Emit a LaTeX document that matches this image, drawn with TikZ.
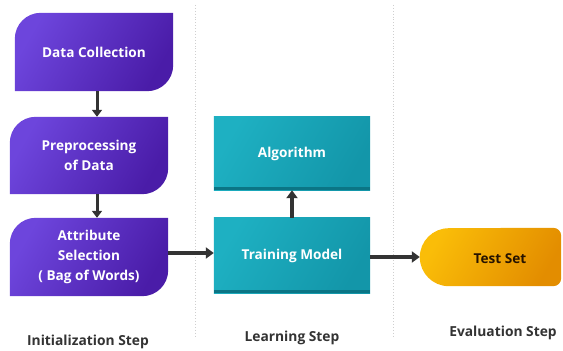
\documentclass[tikz,border=0pt]{standalone}
\usepackage{fontspec}
\setmainfont{Open Sans}
\usetikzlibrary{arrows.meta,backgrounds}
\definecolor{purpA}{HTML}{6D45DC}
\definecolor{purpB}{HTML}{4A1CA8}
\definecolor{tealA}{HTML}{1EB0C2}
\definecolor{tealB}{HTML}{1396A9}
\definecolor{tealD}{HTML}{0B7585}
\definecolor{orA}{HTML}{FABD08}
\definecolor{orB}{HTML}{E38D00}
\definecolor{arr}{HTML}{333333}
\definecolor{sep}{HTML}{CFCFCF}
\tikzset{
  boxtext/.style={inner sep=0pt, font=\bfseries\fontsize{13.6}{20}\selectfont, text=white, align=center},
  purpbox/.style={boxtext, minimum width=158pt},
  tealbox/.style={boxtext, minimum width=156pt},
  purpshade/.style={shading=axis, left color=purpA, right color=purpB, shading angle=60},
  tealshade/.style={shading=axis, left color=tealA, right color=tealB, shading angle=60},
  orshade/.style={shading=axis, left color=orA, right color=orB, shading angle=60},
  arrowline/.style={draw=arr, line width=3.6pt, -{Triangle[length=8pt,width=11pt]}},
  downarrow/.style={draw=arr, line width=3pt, -{Triangle[length=7pt,width=10pt]}},
  steplabel/.style={font=\bfseries\fontsize{13.8}{16}\selectfont, text=arr},
  sepline/.style={draw=sep, line width=0.9pt, dotted}
}
\begin{document}
\begin{tikzpicture}[x=1pt,y=1pt]
\useasboundingbox (0,0) rectangle (563,351);
% separators
\coordinate (s1t) at (195,346); \coordinate (s1b) at (195,13);
\coordinate (s2t) at (393,346); \coordinate (s2b) at (393,13);
\draw[sepline] (s1t) -- (s1b);
\draw[sepline] (s2t) -- (s2b);
% nodes
\node[purpbox, minimum height=78pt] (dc) at (94,299) {Data Collection};
\node[purpbox, minimum height=77pt] (pp) at (89,195.5) {Preprocessing\\of Data};
\node[purpbox, minimum height=78pt] (as) at (89,94) {Attribute\\Selection\\( Bag of Words)};
\node[tealbox, minimum height=73pt] (al) at (292,197.5) {Algorithm};
\node[tealbox, minimum height=75pt] (tm) at (292,95.5) {Training Model};
\node[inner sep=0pt, minimum width=141pt, minimum height=58pt] (ts) at (490.5,94) {};
\node[boxtext, text=black!85!orange] (tst) at (500,92) {Test Set};
% labels
\node[steplabel] (l1) at (88,9) {Initialization Step};
\node[steplabel] (l2) at (292,13) {Learning Step};
\node[steplabel] (l3) at (503,18) {Evaluation Step};
% shapes
\begin{scope}[on background layer]
\foreach \n in {dc,pp,as}{
  \shade[purpshade] (\n.south west) -- ([yshift=-26pt]\n.north west)
    arc[start angle=180, end angle=90, radius=26pt] -- (\n.north east)
    -- ([yshift=26pt]\n.south east) arc[start angle=0, end angle=-90, radius=26pt] -- cycle;
}
\foreach \n in {al,tm}{
  \shade[tealshade] (\n.south west) rectangle (\n.north east);
  \fill[tealD] (\n.south west) rectangle ([yshift=3pt]\n.south east);
}
\shade[orshade] ([xshift=29pt]ts.south west) arc[start angle=-90, end angle=-270, radius=29pt]
  -- ([xshift=-8pt]ts.north east) arc[start angle=90, end angle=0, radius=8pt]
  -- ([yshift=8pt]ts.south east) arc[start angle=0, end angle=-90, radius=8pt] -- cycle;
\end{scope}
% connectors
\draw[downarrow] ([xshift=3pt]dc.south) -- ([xshift=8pt]pp.north);
\draw[downarrow] ([xshift=8pt]pp.south) -- ([xshift=8pt]as.north);
\draw[arrowline] ([yshift=4pt]as.east) -- ([yshift=4pt]as.east -| tm.west);
\draw[arrowline] (tm.north) -- (al.south);
\draw[arrowline] (ts.west -| tm.east) -- (ts.west);
\end{tikzpicture}
\end{document}
